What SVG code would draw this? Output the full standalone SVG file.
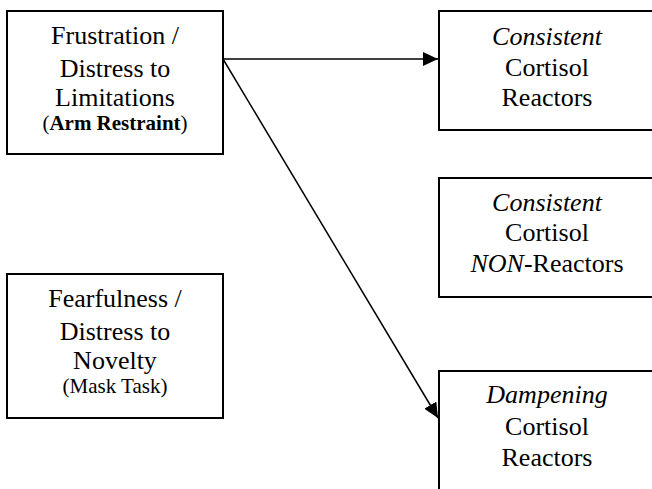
<svg xmlns="http://www.w3.org/2000/svg" width="652" height="489" viewBox="0 0 652 489">
<style>
.box{fill:#fff;stroke:#000;stroke-width:2}
.t{font-family:"Liberation Serif","Times New Roman",Times,serif;font-size:26px;text-anchor:middle;fill:#000}
.s{font-size:21px}
.i{font-style:italic}
.b{font-weight:bold}
.c{fill:none;stroke:#000;stroke-width:1.5}
</style>
<defs>
<marker id="ah" markerUnits="userSpaceOnUse" markerWidth="16" markerHeight="14" refX="15" refY="7" orient="auto" viewBox="0 0 16 14">
<path d="M0,0 L15,7 L0,14 Z" fill="#000"/>
</marker>
</defs>
<rect width="652" height="489" fill="#fff"/>
<g id="frustration">
<rect class="box" x="7" y="11" width="216" height="143"/>
<text class="t" x="115" y="44">Frustration /</text>
<text class="t" x="115" y="77">Distress to</text>
<text class="t" x="115" y="106">Limitations</text>
<text class="t s" x="115" y="130">(<tspan class="b">Arm Restraint</tspan>)</text>
</g>
<g id="fearfulness">
<rect class="box" x="7" y="274" width="216" height="144"/>
<text class="t" x="115" y="307">Fearfulness /</text>
<text class="t" x="115" y="340">Distress to</text>
<text class="t" x="115" y="369">Novelty</text>
<text class="t s" x="115" y="393">(Mask Task)</text>
</g>
<g id="consistent-reactors">
<rect class="box" x="439" y="11" width="216" height="119"/>
<text class="t i" x="547" y="45">Consistent</text>
<text class="t" x="547" y="76">Cortisol</text>
<text class="t" x="547" y="106">Reactors</text>
</g>
<g id="consistent-non-reactors">
<rect class="box" x="439" y="178" width="216" height="119"/>
<text class="t i" x="547" y="211">Consistent</text>
<text class="t" x="547" y="241">Cortisol</text>
<text class="t" x="547" y="272"><tspan class="i">NON</tspan>-Reactors</text>
</g>
<g id="dampening-reactors">
<rect class="box" x="439" y="371" width="216" height="130"/>
<text class="t i" x="547" y="403">Dampening</text>
<text class="t" x="547" y="435">Cortisol</text>
<text class="t" x="547" y="466">Reactors</text>
</g>
<g id="connectors">
<line class="c" x1="223" y1="59" x2="438" y2="59" marker-end="url(#ah)"/>
<line class="c" x1="223" y1="59" x2="438" y2="418" marker-end="url(#ah)"/>
</g>
</svg>
